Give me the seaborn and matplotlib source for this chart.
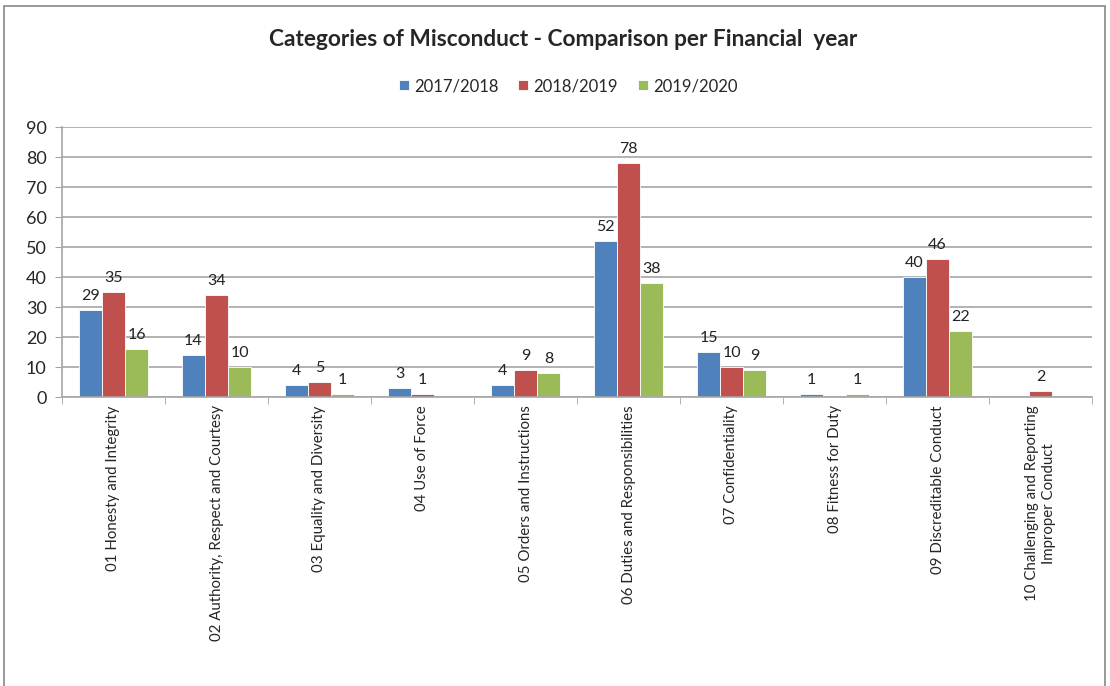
import matplotlib.pyplot as plt
import matplotlib.ticker as ticker
from matplotlib.patches import Rectangle
import pandas as pd
import seaborn as sns

categories = [
    "01 Honesty and Integrity",
    "02 Authority, Respect and Courtesy",
    "03 Equality and Diversity",
    "04 Use of Force",
    "05 Orders and Instructions",
    "06 Duties and Responsibilities",
    "07 Confidentiality",
    "08 Fitness for Duty",
    "09 Discreditable Conduct",
    "10 Challenging and Reporting\nImproper Conduct",
]
years = ["2017/2018", "2018/2019", "2019/2020"]
fy_2017 = [29, 14, 4, 3, 4, 52, 15, 1, 40, 0]
fy_2018 = [35, 34, 5, 1, 9, 78, 10, 0, 46, 2]
fy_2019 = [16, 10, 1, 0, 8, 38, 9, 1, 22, 0]
colors = ["#4F81BD", "#C0504D", "#9BBB59"]


def main():
    df = pd.DataFrame({
        "Category": categories * 3,
        "Year": [y for y in years for _ in categories],
        "Count": fy_2017 + fy_2018 + fy_2019,
    })

    sns.set_style("white")
    plt.rcParams["font.family"] = ["Lato", "DejaVu Sans"]

    fig = plt.figure(figsize=(11.1, 6.86), dpi=100)
    ax = fig.add_axes([62 / 1110, 1 - 397 / 686, 1030 / 1110, 270 / 686])

    sns.barplot(data=df, x="Category", y="Count", hue="Year",
                palette=colors, width=0.67, ax=ax, legend=True,
                edgecolor="white", linewidth=0.6, saturation=1)

    for cont in ax.containers:
        labels = [f"{int(v)}" if v > 0 else "" for v in cont.datavalues]
        ax.bar_label(cont, labels=labels, padding=5, fontsize=11.5,
                     color="#222222")

    ax.set_ylim(0, 90)
    ax.set_xlim(-0.5, len(categories) - 0.5)
    ax.yaxis.set_major_locator(ticker.MultipleLocator(10))
    ax.grid(axis="y", color="#A6A6A6", linewidth=1.2)
    ax.set_axisbelow(True)
    for s in ["top", "right"]:
        ax.spines[s].set_visible(False)
    for s in ["left", "bottom"]:
        ax.spines[s].set_color("#A6A6A6")
        ax.spines[s].set_linewidth(1.2)

    ax.set_xlabel("")
    ax.set_ylabel("")
    ax.tick_params(axis="y", labelsize=13, left=True, length=5,
                   color="#A6A6A6", pad=6)
    ax.tick_params(axis="x", which="major", length=0, pad=6)
    ax.xaxis.set_minor_locator(ticker.FixedLocator(
        [i - 0.5 for i in range(len(categories) + 1)]))
    ax.tick_params(axis="x", which="minor", bottom=True, length=5,
                   color="#A6A6A6")
    ax.set_xticks(range(len(categories)))
    ax.set_xticklabels(categories, rotation=90, fontsize=10.8,
                       ha="center", va="top", multialignment="center")

    ax.legend(loc="center", bbox_to_anchor=(568 / 1110, 1 - 86 / 686),
              bbox_transform=fig.transFigure, ncol=3, frameon=False,
              fontsize=12, handlelength=0.6, handleheight=0.6,
              handletextpad=0.3, columnspacing=1.2)

    fig.text(563 / 1110, 1 - 40 / 686,
             "Categories of Misconduct - Comparison per Financial  year",
             ha="center", va="center", fontsize=16.3, fontweight="bold")

    fig.patches.append(Rectangle((4 / 1110, -0.01), 1101 / 1110,
                                 1 - 6 / 686 + 0.01,
                                 transform=fig.transFigure, fill=False,
                                 edgecolor="#888888", linewidth=1.2))

    fig.savefig("out.png", dpi=100)


if __name__ == "__main__":
    main()
